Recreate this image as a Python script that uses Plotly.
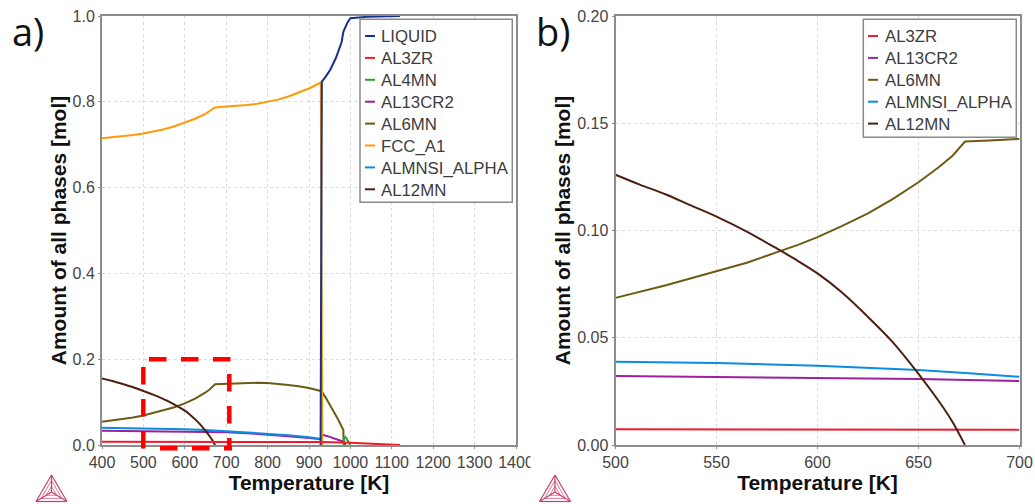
import plotly.graph_objects as go

W, H = 1035, 504

# ---- panel a data ----
liquid_t = [928, 931, 940, 951, 965, 979, 983, 987, 993, 1000, 1040, 1120]
liquid_v = [0.0, 0.847, 0.858, 0.874, 0.902, 0.94, 0.963, 0.972, 0.985, 0.995, 0.998, 1.0]
al3zr_t = [400, 600, 800, 930, 1000, 1060, 1120]
al3zr_v = [0.0075, 0.0074, 0.0072, 0.007, 0.005, 0.0025, 0.0]
al4mn_t = [983, 985, 988, 993, 1000]
al4mn_v = [0.0, 0.017, 0.019, 0.012, 0.0]
al13cr2_t = [400, 500, 600, 700, 750, 800, 850, 900, 928, 929, 932, 950, 970, 983, 988]
al13cr2_v = [0.033, 0.032, 0.0315, 0.0298, 0.0275, 0.0245, 0.0205, 0.0165, 0.0135, 0.02, 0.024, 0.019, 0.012, 0.0077, 0.0]
al6mn_t = [400, 425, 450, 475, 500, 525, 550, 575, 600, 625, 650, 660, 673, 700, 725, 750, 775, 800, 825, 850, 875, 900, 928, 931, 940, 950, 960, 970, 983, 983.5, 988]
al6mn_v = [0.054, 0.057, 0.06, 0.064, 0.0686, 0.0745, 0.081, 0.088, 0.0969, 0.108, 0.1225, 0.1295, 0.1415, 0.1427, 0.144, 0.1447, 0.145, 0.1445, 0.1428, 0.14, 0.137, 0.133, 0.126, 0.124, 0.111, 0.095, 0.078, 0.06, 0.035, 0.008, 0.0]
fcc_t = [400, 425, 450, 475, 500, 525, 550, 575, 600, 625, 650, 660, 673, 700, 725, 750, 775, 800, 825, 850, 875, 900, 928.5, 932]
fcc_v = [0.715, 0.717, 0.72, 0.7225, 0.726, 0.7305, 0.736, 0.743, 0.751, 0.7605, 0.772, 0.778, 0.787, 0.789, 0.79, 0.7925, 0.7955, 0.7995, 0.805, 0.8125, 0.821, 0.831, 0.845, 0.0]
almnsi_t = [400, 500, 550, 600, 650, 700, 750, 800, 850, 900, 928, 930]
almnsi_v = [0.04, 0.0388, 0.0382, 0.037, 0.035, 0.0318, 0.03, 0.027, 0.023, 0.018, 0.0145, 0.0]
al12mn_t = [400, 425, 450, 475, 500, 525, 550, 565, 580, 590, 600, 612, 625, 637, 650, 660, 667, 673]
al12mn_v = [0.155, 0.149, 0.142, 0.1345, 0.126, 0.1168, 0.1065, 0.0995, 0.0915, 0.086, 0.08, 0.0712, 0.0597, 0.0482, 0.0332, 0.0205, 0.0105, 0.0]

# ---- panel b data ----
b_al3zr_t = [500, 600, 700]
b_al3zr_v = [0.0073, 0.0072, 0.0071]
b_al13cr2_t = [500, 550, 600, 650, 700]
b_al13cr2_v = [0.0322, 0.0318, 0.0315, 0.0308, 0.0298]
b_al6mn_t = [500, 512, 525, 537, 550, 565, 580, 590, 600, 612, 625, 637, 650, 660, 667, 673, 685, 700]
b_al6mn_v = [0.0686, 0.0714, 0.0745, 0.0776, 0.081, 0.085, 0.0899, 0.0932, 0.0969, 0.102, 0.108, 0.1145, 0.1225, 0.1295, 0.135, 0.1415, 0.142, 0.1427]
b_almnsi_t = [500, 550, 600, 650, 675, 700]
b_almnsi_v = [0.0388, 0.0382, 0.037, 0.035, 0.0335, 0.0318]
b_al12mn_t = [500, 512, 525, 537, 550, 565, 580, 590, 600, 612, 625, 637, 650, 660, 667, 673]
b_al12mn_v = [0.126, 0.1214, 0.1168, 0.1118, 0.1065, 0.0995, 0.0915, 0.086, 0.08, 0.0712, 0.0597, 0.0482, 0.0332, 0.0205, 0.0105, 0.0]

# ---- names / colours ----
colors = {"LIQUID": "#15308e", "AL3ZR": "#f01c2e", "AL4MN": "#2ca02c", "AL13CR2": "#9a22a0",
          "AL6MN": "#6f5a14", "FCC_A1": "#ff9a0a", "ALMNSI_ALPHA": "#0a8ce0", "AL12MN": "#4d1f10"}
series_a = [("LIQUID", liquid_t, liquid_v), ("AL3ZR", al3zr_t, al3zr_v), ("AL4MN", al4mn_t, al4mn_v),
            ("AL13CR2", al13cr2_t, al13cr2_v), ("AL6MN", al6mn_t, al6mn_v), ("FCC_A1", fcc_t, fcc_v),
            ("ALMNSI_ALPHA", almnsi_t, almnsi_v), ("AL12MN", al12mn_t, al12mn_v)]
series_b = [("AL3ZR", b_al3zr_t, b_al3zr_v), ("AL13CR2", b_al13cr2_t, b_al13cr2_v), ("AL6MN", b_al6mn_t, b_al6mn_v),
            ("ALMNSI_ALPHA", b_almnsi_t, b_almnsi_v), ("AL12MN", b_al12mn_t, b_al12mn_v)]
draw_order_a = ["AL13CR2", "ALMNSI_ALPHA", "AL6MN", "AL12MN", "FCC_A1", "LIQUID", "AL4MN", "AL3ZR"]
smooth_names = {"AL12MN"}

FONT = "Liberation Sans, Arial, sans-serif"
fig = go.Figure()
by_name = {s[0]: s for s in series_a}


def line_style(n):
    style = dict(color=colors[n], width=2)
    if n in smooth_names:
        style.update(shape="spline", smoothing=0.7)
    return style


for n in draw_order_a:
    _, t, v = by_name[n]
    fig.add_trace(go.Scatter(x=t, y=v, mode="lines", name=n, line=line_style(n),
                             showlegend=False, xaxis="x", yaxis="y"))
for n, t, v in series_b:
    fig.add_trace(go.Scatter(x=t, y=v, mode="lines", name=n, line=line_style(n),
                             showlegend=False, xaxis="x2", yaxis="y2"))


def px(x):
    return x / W


def py(y):
    return 1 - y / H


shapes, annotations = [], []


def legend_box(names, left, right, top, bottom, line_x0, line_x1, text_x):
    shapes.append(dict(type="rect", xref="paper", yref="paper", x0=px(left), x1=px(right), y0=py(bottom), y1=py(top),
                       fillcolor="white", line=dict(color="#8a8a8a", width=1.5), layer="above"))
    for i, n in enumerate(names):
        yy = 36 + i * 21.9
        shapes.append(dict(type="line", xref="paper", yref="paper", x0=px(line_x0), x1=px(line_x1), y0=py(yy), y1=py(yy),
                           line=dict(color=colors[n], width=2), layer="above"))
        annotations.append(dict(xref="paper", yref="paper", x=px(text_x), y=py(yy + 1), xanchor="left", yanchor="middle",
                                text=n, showarrow=False, font=dict(family=FONT, size=16.8, color="#3c3c3c"),
                                borderpad=0, borderwidth=0))


legend_box([s[0] for s in series_a], 360, 512.3, 19.3, 202.3, 365, 375, 381)
legend_box([s[0] for s in series_b], 863.3, 1016.3, 19.3, 137.3, 868, 878, 885)


def logo(cx):
    ax, ay = cx, 475
    bx, by = cx - 15.5, 501.5
    ex, ey = cx + 15.5, 501.5
    mx, my = cx, 492
    col = "#c8406a"
    def seg(p, q, w=1):
        shapes.append(dict(type="line", xref="paper", yref="paper", x0=px(p[0]), y0=py(p[1]), x1=px(q[0]), y1=py(q[1]),
                           line=dict(color=col, width=w), layer="above"))
    a, b, e, m = (ax, ay), (bx, by), (ex, ey), (mx, my)
    seg(a, b, 1.2); seg(b, e, 1.2); seg(e, a, 1.2)
    seg(a, m, 1.2); seg(b, m, 1.2); seg(e, m, 1.2)
    for f in (0.33, 0.66):
        pa = (ax + (mx - ax) * f, ay + (my - ay) * f)
        pb = (bx + (mx - bx) * f, by + (my - by) * f)
        pe = (ex + (mx - ex) * f, ey + (my - ey) * f)
        seg(pa, pb, 0.7); seg(pb, pe, 0.7); seg(pe, pa, 0.7)


logo(51.5)
logo(555)

# red dashed zoom box of panel a, one side at a time so the dash phase of each side matches
red_dash = dict(color="#ff0000", width=4.5, dash="17.5px,14.5px")
for x0, y0, x1, y1 in [(149, 359.3, 232, 359.3), (160, 448.3, 232, 448.3), (143.3, 367, 143.3, 450), (229.3, 374, 229.3, 450)]:
    shapes.append(dict(type="line", xref="paper", yref="paper", x0=px(x0), y0=py(y0), x1=px(x1), y1=py(y1),
                       line=red_dash, layer="above"))
# the reference crops the 1400 tick label at the panel edge
shapes.append(dict(type="rect", xref="paper", yref="paper", x0=px(530.5), x1=px(540), y0=py(474), y1=py(450),
                   fillcolor="white", line=dict(width=0), layer="above"))

annotations.append(dict(xref="paper", yref="paper", x=px(10), y=py(31), xanchor="left", yanchor="middle", text="a)",
                        showarrow=False, font=dict(family="Open Sans, sans-serif", size=38, color="#111111")))
annotations.append(dict(xref="paper", yref="paper", x=px(534), y=py(31), xanchor="left", yanchor="middle", text="b)",
                        showarrow=False, font=dict(family="Open Sans, sans-serif", size=38, color="#111111")))

common_x = dict(showgrid=True, gridcolor="#dcdcdc", griddash="dot", gridwidth=1, showline=True, linecolor="#8c8c8c",
                linewidth=2, mirror=True, ticks="outside", ticklen=2, tickcolor="#8c8c8c", zeroline=False,
                automargin=False, tickfont=dict(family=FONT, size=16, color="#444444"))
title_font = dict(family=FONT, size=21, color="#111111", weight="bold")

fig.update_layout(
    width=W, height=H, margin=dict(l=0, r=0, t=0, b=0), autosize=False,
    paper_bgcolor="white", plot_bgcolor="white", showlegend=False, shapes=shapes, annotations=annotations,
    xaxis=dict(common_x, domain=[px(102), px(516)], range=[400, 1400], dtick=100, tick0=400, anchor="y",
               title=dict(text="Temperature [K]", font=title_font, standoff=2)),
    yaxis=dict(common_x, domain=[py(445), py(16)], range=[0, 1], dtick=0.2, tickformat=".1f", anchor="x",
               title=dict(text="Amount of all phases [mol]", font=title_font, standoff=0)),
    xaxis2=dict(common_x, domain=[px(615.5), px(1019.5)], range=[500, 700], dtick=50, tick0=500, anchor="y2",
                title=dict(text="Temperature [K]", font=title_font, standoff=2)),
    yaxis2=dict(common_x, domain=[py(445), py(16)], range=[0, 0.2], dtick=0.05, tickformat=".2f", anchor="x2",
                title=dict(text="Amount of all phases [mol]", font=title_font, standoff=1)),
)

fig.write_html("out.html", config={"displayModeBar": False},
               post_script="document.body.style.margin='0';document.body.style.overflow='hidden';")
